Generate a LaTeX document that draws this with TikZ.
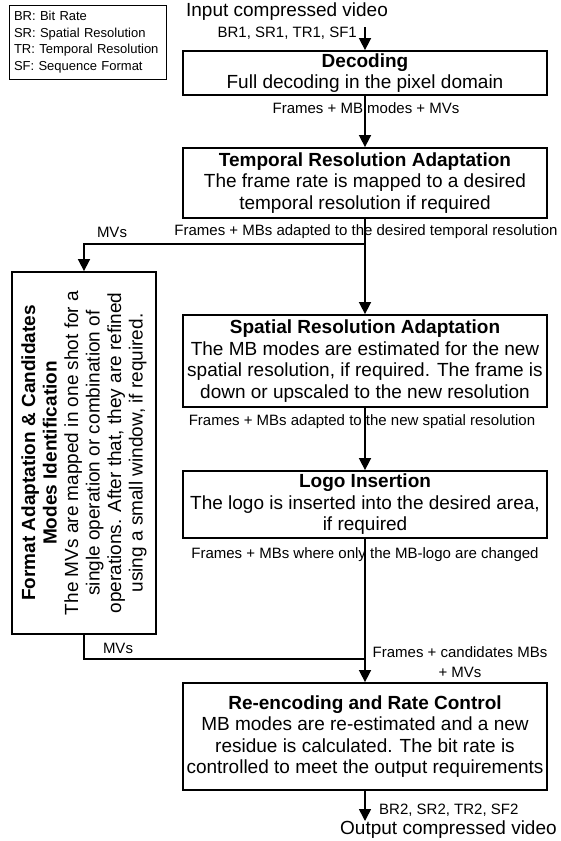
\documentclass[tikz,border=0pt]{standalone}
\usepackage{fontspec}
\setmainfont{Liberation Sans}
\usetikzlibrary{arrows.meta}
\begin{document}
\begin{tikzpicture}[x=1pt,y=-1pt,
  box/.style={draw, line width=1.8pt, minimum width=364pt, align=center, inner sep=0pt,
    font=\fontsize{19}{21.5}\selectfont},
  lbl/.style={font=\fontsize{15}{19}\selectfont, inner sep=0pt},
  big/.style={font=\fontsize{19}{21.5}\selectfont, inner sep=0pt},
  conn/.style={line width=1.6pt},
  arr/.style={conn, -{Triangle[length=12pt,width=12pt]}},
  legendbox/.style={draw, line width=0.8pt, text width=147pt, inner xsep=5pt,
    minimum height=74pt, align=left, font=\fontsize{13}{16.7}\selectfont},
]
\useasboundingbox (0,0) rectangle (561,841);

% legend
\node[legendbox] (leg) at (87.5,42) {BR: Bit Rate\\SR: Spatial Resolution\\TR: Temporal Resolution\\SF: Sequence Format};

% input
\node[big] (in) at (287,12) {Input compressed video};
\coordinate (inA) at (365,27);
\node[lbl, anchor=east] (br1) at (357,33) {BR1, SR1, TR1, SF1};

% boxes
\node[box, minimum height=44pt] (dec) at (365,73) {\textbf{Decoding}\\Full decoding in the pixel domain};
\node[box, minimum height=70pt] (tra) at (365,183) {\textbf{Temporal Resolution Adaptation}\\The frame rate is mapped to a desired\\temporal resolution if required};
\node[box, minimum height=92pt] (sp) at (365,361) {\textbf{Spatial Resolution Adaptation}\\The MB modes are estimated for the new\\spatial resolution, if required. The frame is\\down or upscaled to the new resolution};
\node[box, minimum height=67pt] (logo) at (365,504.5) {\textbf{Logo Insertion}\\The logo is inserted into the desired area,\\if required};
\node[box, minimum height=107pt] (re) at (365,736.5) {\textbf{Re-encoding and Rate Control}\\MB modes are re-estimated and a new\\residue is calculated. The bit rate is\\controlled to meet the output requirements};

% left rotated box
\node[box, rotate=90, minimum width=362pt, minimum height=144pt] (lb) at (84,453) {\textbf{Format Adaptation \& Candidates}\\\textbf{Modes Identification}\\The MVs are mapped in one shot for a\\single operation or combination of\\operations. After that, they are refined\\using a small window, if required.};

% junctions
\coordinate (j1) at (365,244);
\coordinate (j2) at (365,659);
\coordinate (outA) at (365,821);

% connectors
\draw[arr] (inA) -- (dec.north);
\draw[arr] (dec.south) -- (tra.north);
\draw[arr] (tra.south) -- (sp.north);
\draw[arr] (j1) -| (lb.east);
\draw[arr] (sp.south) -- (logo.north);
\draw[arr] (logo.south) -- (re.north);
\draw[conn] (lb.west) |- (j2);
\draw[arr] (re.south) -- (outA);

% labels
\node[lbl] (l1) at (366,108) {Frames + MB modes + MVs};
\node[lbl] (l2) at (112,232) {MVs};
\node[lbl] (l3) at (366,232) {Frames + MBs adapted to the desired temporal resolution};
\node[lbl] (l4) at (362,422) {Frames + MBs adapted to the new spatial resolution};
\node[lbl] (l5) at (365,555) {Frames + MBs where only the MB-logo are changed};
\node[lbl] (l6) at (118,648) {MVs};
\node[lbl, align=center, font=\fontsize{15}{20}\selectfont] (l7) at (460,662) {Frames + candidates MBs\\+ MVs};
\node[lbl, anchor=west] (br2) at (379,810) {BR2, SR2, TR2, SF2};
\node[big, anchor=west] (out) at (340,830) {Output compressed video};
\end{tikzpicture}
\end{document}
